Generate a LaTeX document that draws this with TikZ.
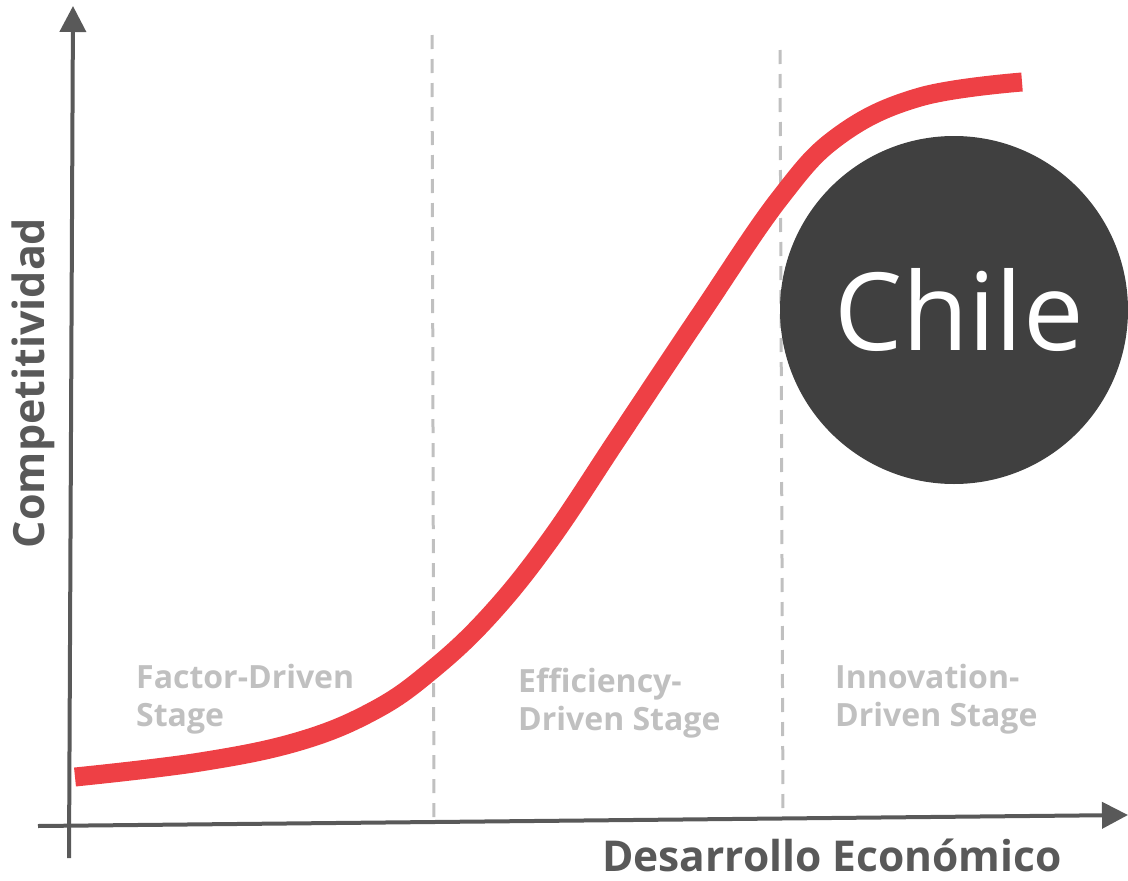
\documentclass[tikz,border=0pt]{standalone}
\usepackage{fontspec}
\setmainfont{Open Sans}
\usetikzlibrary{arrows.meta}
\definecolor{axisgray}{HTML}{595959}
\definecolor{stagegray}{HTML}{C0C0C0}
\definecolor{curvered}{HTML}{EE4045}
\definecolor{circlegray}{HTML}{404040}
\begin{document}
\begin{tikzpicture}[x=1pt,y=-1pt,
  axis/.style={draw=axisgray,line width=4pt,-{Triangle[length=26pt,width=26pt]}},
  divider/.style={draw=stagegray,line width=3pt,dash pattern=on 14pt off 10pt},
  stagelabel/.style={text=stagegray,font=\fontsize{32}{38}\selectfont\bfseries,align=left,anchor=north west,inner sep=0pt},
  axislabel/.style={text=axisgray,font=\fontsize{43}{50}\selectfont\bfseries,inner sep=0pt}]
\useasboundingbox (0,0) rectangle (1128,881);

% axes
\coordinate (ybot) at (69,858);
\coordinate (ytop) at (73,6);
\coordinate (xleft) at (38,826);
\coordinate (xright) at (1128,815);
\draw[axis] (ybot) -- (ytop);
\draw[axis] (xleft) -- (xright);

% stage dividers
\coordinate (d1top) at (432,35);
\coordinate (d1bot) at (434,822);
\coordinate (d2top) at (780,50);
\coordinate (d2bot) at (783,815);
\draw[divider] (d1top) -- (d1bot);
\draw[divider] (d2top) -- (d2bot);

% country marker
\node[circle,fill=circlegray,minimum size=348pt,inner sep=0pt] (chile) at (954,310) {};

% growth curve
\draw[curvered,line width=19pt] plot[smooth,tension=0.65] coordinates {(75,777) (200,762) (300,741) (375,710) (432,670) (490,615) (550,540) (620,435) (700,315) (780,198) (840,135) (920,97) (1022,82)};

\node[text=white,font=\fontsize{108}{120}\selectfont,inner sep=0pt] (chilelabel) at (959,310) {Chile};

% stage labels
\node[stagelabel] (factor) at (136,664) {Factor-Driven\\Stage};
\node[stagelabel] (efficiency) at (518,668) {Efficiency-\\Driven Stage};
\node[stagelabel] (innovation) at (835,664) {Innovation-\\Driven Stage};

% axis titles
\node[axislabel,rotate=90] (ylabel) at (33,383) {Competitividad};
\node[axislabel,font=\fontsize{42.5}{50}\selectfont\bfseries,anchor=base] (xlabel) at (832,871) {Desarrollo Económico};
\end{tikzpicture}
\end{document}
